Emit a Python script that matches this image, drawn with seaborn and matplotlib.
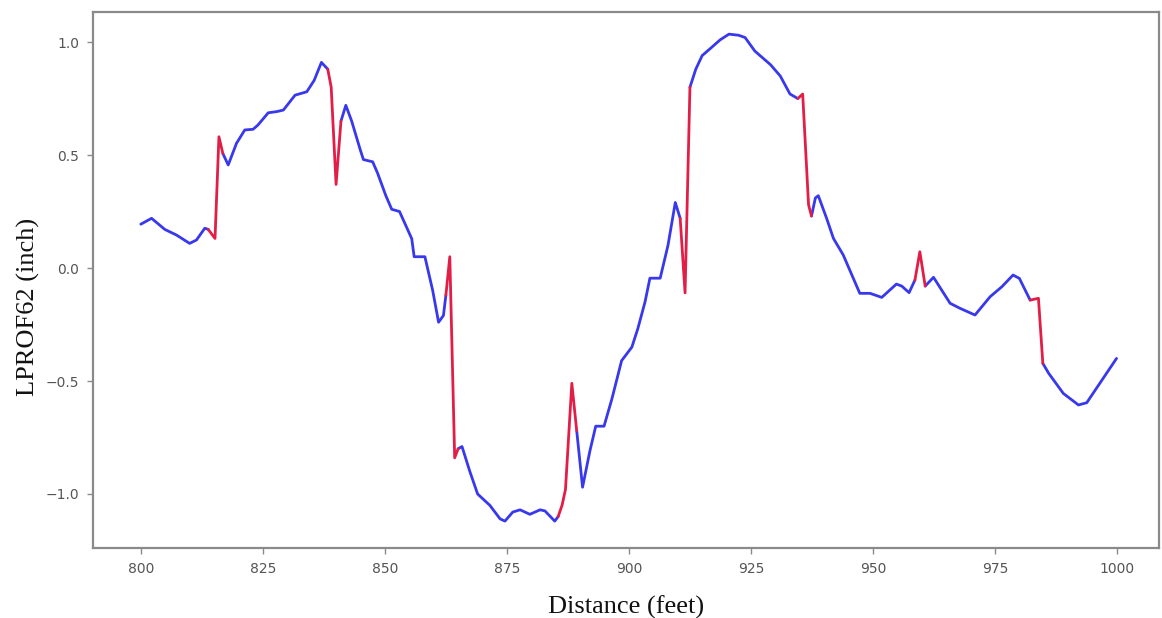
import numpy as np
import pandas as pd
import matplotlib
matplotlib.use("Agg")
import matplotlib.pyplot as plt
import seaborn as sns

# ---- data ----
distance = [800, 802.2, 804.9, 807.3, 810, 811.4, 813.1, 813.8, 815.2, 816.0, 816.8, 817.9,
            819.6, 821.3, 823, 824, 826.1, 827.8, 829.2, 831.6, 834, 835.5, 837, 838.3, 839,
            840, 841, 842, 843.2, 845, 845.6, 847.5, 848.5, 850.2, 851.4, 853, 855.5, 856,
            858.2, 859.8, 861, 862, 862.5, 863.3, 864.3, 865, 865.8, 867.4, 869, 871.5, 873.6,
            874.6, 876.2, 877.7, 879.7, 881.8, 882.8, 884.8, 885.5, 886.3, 887, 888.3, 889.3,
            890.5, 892, 893.2, 894.9, 896.5, 898.5, 900.6, 901.8, 903.3, 904.3, 906.4, 908,
            909.5, 910.5, 911.5, 912.5, 913.7, 915, 916.6, 918.7, 920.5, 922.5, 923.8, 925.8,
            929, 931, 933, 934.6, 935.6, 936.8, 937.4, 938.2, 938.8, 940.5, 941.9, 943.9,
            947.3, 949.4, 951.8, 954.8, 955.9, 957.4, 958.6, 959.6, 960.7, 962.4, 965.8, 967.8,
            970.9, 974, 976.4, 978.7, 980, 982.2, 983.9, 984.8, 986, 989, 992.1, 993.8, 999.9]
lprof62 = [0.194, 0.22, 0.171, 0.146, 0.109, 0.124, 0.176, 0.171, 0.131, 0.581, 0.507, 0.456,
           0.552, 0.611, 0.614, 0.633, 0.687, 0.692, 0.699, 0.765, 0.78, 0.83, 0.91, 0.88, 0.80,
           0.37, 0.65, 0.72, 0.65, 0.52, 0.48, 0.47, 0.42, 0.32, 0.26, 0.25, 0.13, 0.05,
           0.05, -0.10, -0.24, -0.21, -0.12, 0.05, -0.84, -0.80, -0.79, -0.90, -1.00, -1.05, -1.11,
           -1.12, -1.08, -1.07, -1.09, -1.07, -1.075, -1.12, -1.10, -1.05, -0.98, -0.51, -0.72,
           -0.97, -0.81, -0.70, -0.70, -0.58, -0.41, -0.35, -0.27, -0.15, -0.045, -0.045, 0.10,
           0.29, 0.22, -0.11, 0.80, 0.88, 0.94, 0.97, 1.01, 1.035, 1.03, 1.02, 0.96,
           0.90, 0.85, 0.77, 0.75, 0.77, 0.28, 0.23, 0.31, 0.32, 0.22, 0.131, 0.058,
           -0.112, -0.112, -0.13, -0.071, -0.08, -0.109, -0.053, 0.072, -0.08, -0.041, -0.156, -0.178,
           -0.208, -0.127, -0.083, -0.031, -0.046, -0.142, -0.134, -0.422, -0.466, -0.555, -0.606, -0.596, -0.40]
# distance ranges flagged (drawn in red)
flag_start = [813.8, 838.3, 862.5, 885.5, 910.5, 934.6, 958.6, 982.2]
flag_end = [816.8, 841.0, 865.0, 889.3, 912.5, 937.4, 960.7, 984.8]

x_ticks = [800, 825, 850, 875, 900, 925, 950, 975, 1000]
y_ticks = [-1.0, -0.5, 0.0, 0.5, 1.0]

df = pd.DataFrame({"Distance": distance, "LPROF62": lprof62})

sns.set_theme(style="ticks")
plt.rcParams["font.family"] = ["DejaVu Sans"]

fig = plt.figure(figsize=(11.62, 6.18), dpi=100)
ax = fig.add_axes([93 / 1162, 1 - 548 / 618, (1159 - 93) / 1162, (548 - 12) / 618])

blue = "#3838ec"
red = "#e31e46"

# normal stretches (between flagged ranges) in blue
blue_start = [df["Distance"].min()] + flag_end
blue_end = flag_start + [df["Distance"].max()]
for a, b in zip(blue_start, blue_end):
    seg = df[(df["Distance"] >= a) & (df["Distance"] <= b)]
    sns.lineplot(data=seg, x="Distance", y="LPROF62", ax=ax, color=blue, lw=2.0,
                 sort=False, estimator=None)
# flagged stretches in red
for a, b in zip(flag_start, flag_end):
    seg = df[(df["Distance"] >= a) & (df["Distance"] <= b)]
    sns.lineplot(data=seg, x="Distance", y="LPROF62", ax=ax, color=red, lw=2.0,
                 sort=False, estimator=None)

ax.set_xlim(790.2, 1008.6)
ax.set_ylim(-1.239, 1.133)
ax.set_xticks(x_ticks)
ax.set_xticklabels([str(v) for v in x_ticks])
ax.set_yticks(y_ticks)
ax.set_yticklabels([f"{v:.1f}".replace("-", "\u2212") for v in y_ticks])

for s in ax.spines.values():
    s.set_color("#8a8a8a")
    s.set_linewidth(1.6)
ax.tick_params(axis="both", colors="#8a8a8a", labelcolor="#555555", labelsize=10,
               length=4, width=1.0, pad=6)

ax.set_xlabel("Distance (feet)", fontsize=19, family="Liberation Serif", color="#111111",
              labelpad=14)
ax.set_ylabel("LPROF62 (inch)", fontsize=19, family="Liberation Serif", color="#111111",
              labelpad=14)
ax.yaxis.set_label_coords(-0.050, 0.45)

fig.savefig("out.png", dpi=100)
